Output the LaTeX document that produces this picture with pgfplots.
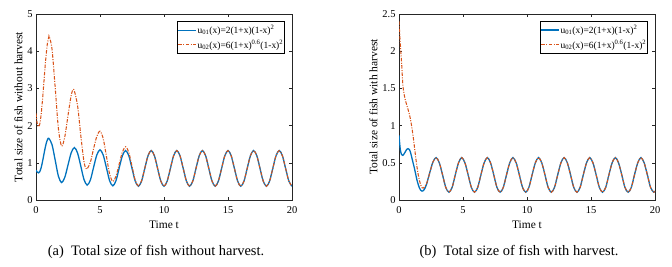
\documentclass[border=0pt]{standalone}
\usepackage{fontspec}
\setmainfont{Liberation Serif}
\usepackage{pgfplots}
\pgfplotsset{compat=1.18}
\definecolor{mblue}{rgb}{0,0.447,0.741}
\definecolor{morange}{rgb}{0.85,0.325,0.098}
\pgfplotsset{
  fishaxis/.style={
    scale only axis, width=256bp, height=186bp,
    xmin=0, xmax=20, xtick={0,5,10,15,20},
    tick align=inside, tick pos=both, major tick length=3bp,
    axis line style={black!85}, every tick/.style={black!85},
    /pgf/number format/assume math mode=true,
    tick label style={font=\fontsize{10.5}{12}\selectfont},
    xticklabel style={anchor=center, yshift=-10.5bp},
    label style={font=\fontsize{11.5}{13}\selectfont},
    xlabel={Time t},
    xlabel style={at={(axis description cs:0.5,0)}, anchor=center, yshift=-25bp},
    ylabel style={yshift=-2bp},
    legend cell align=left,
    legend style={at={(1,1)}, anchor=north east, xshift=-7bp, yshift=-7bp,
      font=\fontsize{9.5}{11}\selectfont, draw=black, line width=0.6pt,
      inner xsep=1bp, inner ysep=1.5bp, row sep=0bp,
      nodes={inner xsep=0.5bp, inner ysep=2.5bp}},
    legend image code/.code={\draw[#1] (0bp,0bp) -- (18bp,0bp);},
  },
  blueline/.style={color=mblue, line width=1.3pt, smooth, no markers},
  orangeline/.style={color=morange, line width=1.05pt, smooth, no markers,
     dash pattern=on 3.5bp off 1.4bp on 1bp off 1.4bp},
}
\begin{document}
\begin{tikzpicture}[x=1bp,y=1bp]
\path[use as bounding box] (0,0) rectangle (672,266);
% ---------------- (a) ----------------
\begin{axis}[fishaxis, at={(36bp,66bp)}, anchor=south west,
  ymin=0, ymax=5, ytick={0,1,2,3,4,5},
  ylabel={Total size of fish without harvest}]
\addplot[blueline] coordinates {
(0,0.80) (0.1,0.75) (0.2,0.73) (0.3,0.765) (0.4,0.866) (0.5,1.017) (0.6,1.195) (0.7,1.373) (0.8,1.524) (0.9,1.625) (1,1.66)
(1.25,1.49) (1.5,1.07) (1.75,0.64) (2,0.47)
(2.25,0.61) (2.5,0.94) (2.75,1.27) (3,1.41)
(3.25,1.26) (3.5,0.91) (3.75,0.55) (4,0.40)
(4.25,0.54) (4.5,0.88) (4.75,1.21) (5,1.35)
(5.25,1.21) (5.5,0.87) (5.75,0.52) (6,0.38)
(6.25,0.52) (6.5,0.86) (6.75,1.19) (7,1.33)
(7.25,1.19) (7.5,0.85) (7.75,0.51) (8,0.37) (8.25,0.51) (8.5,0.85) (8.75,1.19) (9,1.33)
(9.25,1.19) (9.5,0.85) (9.75,0.51) (10,0.37) (10.25,0.51) (10.5,0.85) (10.75,1.19) (11,1.33)
(11.25,1.19) (11.5,0.85) (11.75,0.51) (12,0.37) (12.25,0.51) (12.5,0.85) (12.75,1.19) (13,1.33)
(13.25,1.19) (13.5,0.85) (13.75,0.51) (14,0.37) (14.25,0.51) (14.5,0.85) (14.75,1.19) (15,1.33)
(15.25,1.19) (15.5,0.85) (15.75,0.51) (16,0.37) (16.25,0.51) (16.5,0.85) (16.75,1.19) (17,1.33)
(17.25,1.19) (17.5,0.85) (17.75,0.51) (18,0.37) (18.25,0.51) (18.5,0.85) (18.75,1.19) (19,1.33)
(19.25,1.19) (19.5,0.85) (19.75,0.51) (20,0.37)
};
\addlegendentry{u\textsubscript{01}(x)=2(1+x)(1-x)\textsuperscript{2}\hspace{9bp}}
\addplot[orangeline] coordinates {
(0,2.33) (0.1,2.05) (0.2,1.97) (0.3,2.05) (0.4,2.29) (0.5,2.66) (0.6,3.09) (0.7,3.54) (0.8,3.93) (0.9,4.23) (1.0,4.38) (1.04,4.39)
(1.25,4.06) (1.5,3.02) (1.75,1.92) (2,1.45)
(2.25,1.70) (2.5,2.27) (2.75,2.81) (2.95,2.97)
(3.25,2.53) (3.5,1.73) (3.75,1.03) (3.95,0.83)
(4.25,1.02) (4.5,1.38) (4.75,1.71) (5,1.85)
(5.25,1.65) (5.5,1.18) (5.75,0.70) (6,0.50)
(6.25,0.64) (6.5,0.97) (6.75,1.29) (7,1.43)
(7.25,1.28) (7.5,0.91) (7.75,0.53) (8,0.38)
(8.25,0.52) (8.5,0.86) (8.75,1.19) (9,1.33)
(9.25,1.19) (9.5,0.85) (9.75,0.51) (10,0.37) (10.25,0.51) (10.5,0.85) (10.75,1.19) (11,1.33)
(11.25,1.19) (11.5,0.85) (11.75,0.51) (12,0.37) (12.25,0.51) (12.5,0.85) (12.75,1.19) (13,1.33)
(13.25,1.19) (13.5,0.85) (13.75,0.51) (14,0.37) (14.25,0.51) (14.5,0.85) (14.75,1.19) (15,1.33)
(15.25,1.19) (15.5,0.85) (15.75,0.51) (16,0.37) (16.25,0.51) (16.5,0.85) (16.75,1.19) (17,1.33)
(17.25,1.19) (17.5,0.85) (17.75,0.51) (18,0.37) (18.25,0.51) (18.5,0.85) (18.75,1.19) (19,1.33)
(19.25,1.19) (19.5,0.85) (19.75,0.51) (20,0.37)
};
\addlegendentry{u\textsubscript{02}(x)=6(1+x)\textsuperscript{0.6}(1-x)\textsuperscript{2}}
\end{axis}
% ---------------- (b) ----------------
\begin{axis}[fishaxis, at={(399bp,66bp)}, anchor=south west,
  ymin=0, ymax=2.5, ytick={0,0.5,1,1.5,2,2.5},
  ylabel={Total size of fish with harvest}]
\addplot[blueline] coordinates {
(0,0.87) (0.1,0.68) (0.2,0.61) (0.3,0.60) (0.4,0.62) (0.5,0.65) (0.6,0.68) (0.7,0.69) (0.8,0.68) (0.9,0.64)
(1.0,0.57) (1.1,0.50) (1.2,0.43) (1.3,0.35) (1.4,0.27) (1.5,0.21) (1.6,0.16) (1.7,0.13) (1.8,0.12) (1.9,0.125)
(2.0,0.15) (2.15,0.21) (2.4,0.365) (2.65,0.51) (2.9,0.57)
(3.15,0.50) (3.4,0.34) (3.65,0.17) (3.9,0.105) (4.15,0.17) (4.4,0.34) (4.65,0.50) (4.9,0.57)
(5.15,0.50) (5.4,0.34) (5.65,0.17) (5.9,0.105) (6.15,0.17) (6.4,0.34) (6.65,0.50) (6.9,0.57)
(7.15,0.50) (7.4,0.34) (7.65,0.17) (7.9,0.105) (8.15,0.17) (8.4,0.34) (8.65,0.50) (8.9,0.57)
(9.15,0.50) (9.4,0.34) (9.65,0.17) (9.9,0.105) (10.15,0.17) (10.4,0.34) (10.65,0.50) (10.9,0.57)
(11.15,0.50) (11.4,0.34) (11.65,0.17) (11.9,0.105) (12.15,0.17) (12.4,0.34) (12.65,0.50) (12.9,0.57)
(13.15,0.50) (13.4,0.34) (13.65,0.17) (13.9,0.105) (14.15,0.17) (14.4,0.34) (14.65,0.50) (14.9,0.57)
(15.15,0.50) (15.4,0.34) (15.65,0.17) (15.9,0.105) (16.15,0.17) (16.4,0.34) (16.65,0.50) (16.9,0.57)
(17.15,0.50) (17.4,0.34) (17.65,0.17) (17.9,0.105) (18.15,0.17) (18.4,0.34) (18.65,0.50) (18.9,0.57)
(19.15,0.50) (19.4,0.34) (19.65,0.17) (19.9,0.105) (20,0.12)
};
\addlegendentry{u\textsubscript{01}(x)=2(1+x)(1-x)\textsuperscript{2}\hspace{9bp}}
\addplot[orangeline] coordinates {
(0,2.40) (0.05,2.25) (0.1,2.10) (0.2,1.85) (0.3,1.55) (0.4,1.42) (0.5,1.34) (0.6,1.28) (0.7,1.22) (0.8,1.16) (0.9,1.08)
(1.0,0.98) (1.1,0.86) (1.2,0.72) (1.3,0.58) (1.4,0.45) (1.5,0.34) (1.6,0.26) (1.7,0.20) (1.8,0.165) (1.9,0.16)
(2.15,0.22) (2.4,0.365) (2.65,0.51) (2.9,0.57)
(3.15,0.50) (3.4,0.34) (3.65,0.17) (3.9,0.105) (4.15,0.17) (4.4,0.34) (4.65,0.50) (4.9,0.57)
(5.15,0.50) (5.4,0.34) (5.65,0.17) (5.9,0.105) (6.15,0.17) (6.4,0.34) (6.65,0.50) (6.9,0.57)
(7.15,0.50) (7.4,0.34) (7.65,0.17) (7.9,0.105) (8.15,0.17) (8.4,0.34) (8.65,0.50) (8.9,0.57)
(9.15,0.50) (9.4,0.34) (9.65,0.17) (9.9,0.105) (10.15,0.17) (10.4,0.34) (10.65,0.50) (10.9,0.57)
(11.15,0.50) (11.4,0.34) (11.65,0.17) (11.9,0.105) (12.15,0.17) (12.4,0.34) (12.65,0.50) (12.9,0.57)
(13.15,0.50) (13.4,0.34) (13.65,0.17) (13.9,0.105) (14.15,0.17) (14.4,0.34) (14.65,0.50) (14.9,0.57)
(15.15,0.50) (15.4,0.34) (15.65,0.17) (15.9,0.105) (16.15,0.17) (16.4,0.34) (16.65,0.50) (16.9,0.57)
(17.15,0.50) (17.4,0.34) (17.65,0.17) (17.9,0.105) (18.15,0.17) (18.4,0.34) (18.65,0.50) (18.9,0.57)
(19.15,0.50) (19.4,0.34) (19.65,0.17) (19.9,0.105) (20,0.12)
};
\addlegendentry{u\textsubscript{02}(x)=6(1+x)\textsuperscript{0.6}(1-x)\textsuperscript{2}}
\end{axis}
% captions
\node[font=\fontsize{14.5}{16}\selectfont] at (156,14) {(a)\ \ Total size of fish without harvest.};
\node[font=\fontsize{14.5}{16}\selectfont] at (519,14) {(b)\ \ Total size of fish with harvest.};
\end{tikzpicture}
\end{document}
